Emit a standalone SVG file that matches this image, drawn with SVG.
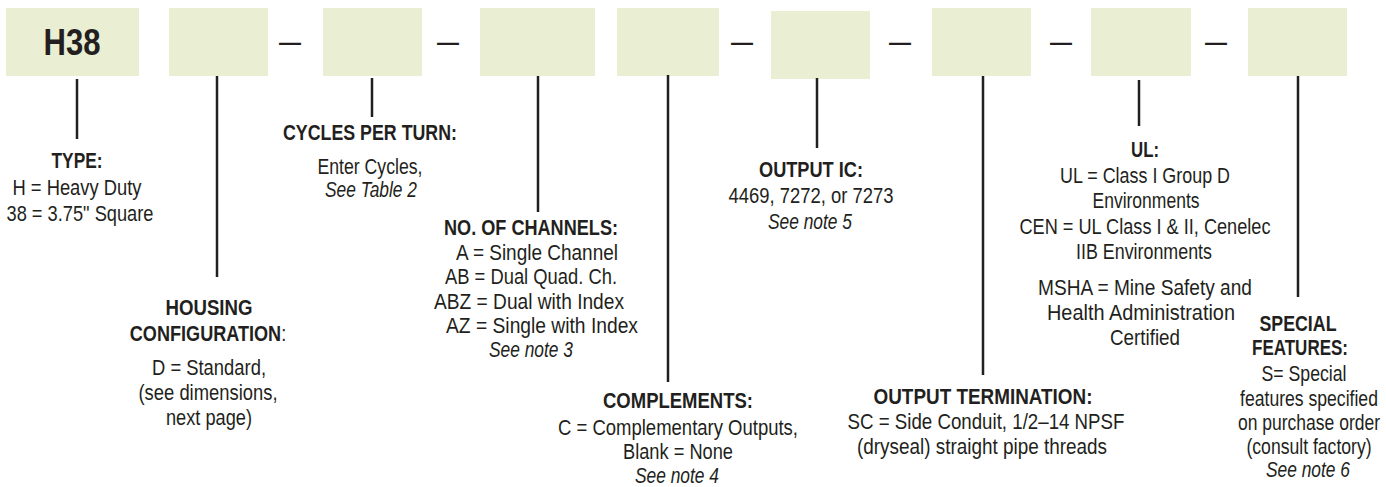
<svg xmlns="http://www.w3.org/2000/svg" width="1386" height="487" viewBox="0 0 1386 487">
<style>
  .box { fill: #eaeed3; }
  .ln { stroke: #231f20; stroke-width: 2.5; fill: none; }
  text { font-family: "Liberation Sans", Arial, sans-serif; fill: #231f20; font-size: 22px; }
  .c { text-anchor: middle; }
  .h { font-weight: bold; }
  .i { font-style: italic; }
  .dash { font-weight: bold; text-anchor: middle; }
</style>
<rect width="1386" height="487" fill="#ffffff"/>

<g id="boxes">
  <g id="box-type"><rect class="box" x="6" y="8" width="133" height="68"/><text class="c h" x="72" y="55" style="font-size:37.5px" textLength="57" lengthAdjust="spacingAndGlyphs">H38</text></g>
  <g id="box-housing"><rect class="box" x="169" y="8" width="99" height="68"/></g>
  <g id="box-cycles"><rect class="box" x="323" y="8" width="99" height="68"/></g>
  <g id="box-channels"><rect class="box" x="480" y="8" width="115" height="68"/></g>
  <g id="box-complements"><rect class="box" x="617" y="8" width="102" height="68"/></g>
  <g id="box-outputic"><rect class="box" x="771" y="11" width="99" height="68"/></g>
  <g id="box-termination"><rect class="box" x="932" y="8" width="99" height="68"/></g>
  <g id="box-ul"><rect class="box" x="1091" y="8" width="100" height="68"/></g>
  <g id="box-special"><rect class="box" x="1248" y="8" width="99" height="68"/></g>
</g>

<g id="dashes">
  <text class="dash" x="290" y="50">—</text>
  <text class="dash" x="448" y="50">—</text>
  <text class="dash" x="742" y="50">—</text>
  <text class="dash" x="900" y="50">—</text>
  <text class="dash" x="1061" y="50">—</text>
  <text class="dash" x="1216" y="50">—</text>
</g>

<g id="connectors">
  <line class="ln" x1="77" y1="79" x2="77" y2="139"/>
  <line class="ln" x1="217" y1="76" x2="217" y2="277"/>
  <line class="ln" x1="372" y1="78" x2="372" y2="117"/>
  <line class="ln" x1="538" y1="76" x2="538" y2="212"/>
  <line class="ln" x1="668" y1="75" x2="668" y2="382"/>
  <line class="ln" x1="817" y1="78" x2="817" y2="148"/>
  <line class="ln" x1="983" y1="76" x2="983" y2="375"/>
  <line class="ln" x1="1139" y1="80" x2="1139" y2="126"/>
  <line class="ln" x1="1298" y1="76" x2="1298" y2="297"/>
</g>

<g id="label-type">
  <text class="c h" x="77" y="168" textLength="51" lengthAdjust="spacingAndGlyphs">TYPE:</text>
  <text class="c" x="77" y="195" textLength="129" lengthAdjust="spacingAndGlyphs">H = Heavy Duty</text>
  <text class="c" x="80" y="221" textLength="147" lengthAdjust="spacingAndGlyphs">38 = 3.75&quot; Square</text>
</g>

<g id="label-housing">
  <text class="c h" x="209" y="315" textLength="87" lengthAdjust="spacingAndGlyphs">HOUSING</text>
  <text class="c" x="0" y="341" transform="translate(208,0) scale(0.823,1)"><tspan class="h">CONFIGURATION</tspan>:</text>
  <text class="c" x="209" y="375" textLength="114" lengthAdjust="spacingAndGlyphs">D = Standard,</text>
  <text class="c" x="208" y="400" textLength="139" lengthAdjust="spacingAndGlyphs">(see dimensions,</text>
  <text class="c" x="209" y="425" textLength="86" lengthAdjust="spacingAndGlyphs">next page)</text>
</g>

<g id="label-cycles">
  <text class="c h" x="370" y="140" textLength="174" lengthAdjust="spacingAndGlyphs">CYCLES PER TURN:</text>
  <text class="c" x="370" y="174" textLength="105" lengthAdjust="spacingAndGlyphs">Enter Cycles,</text>
  <text class="c i" x="371" y="197" textLength="92" lengthAdjust="spacingAndGlyphs">See Table 2</text>
</g>

<g id="label-channels">
  <text class="c h" x="531" y="235" textLength="174" lengthAdjust="spacingAndGlyphs">NO. OF CHANNELS:</text>
  <text x="456" y="259.5" textLength="162" lengthAdjust="spacingAndGlyphs">A = Single Channel</text>
  <text x="445" y="284" textLength="172" lengthAdjust="spacingAndGlyphs">AB = Dual Quad. Ch.</text>
  <text x="434" y="308.5" textLength="190" lengthAdjust="spacingAndGlyphs">ABZ = Dual with Index</text>
  <text x="446" y="333" textLength="192" lengthAdjust="spacingAndGlyphs">AZ = Single with Index</text>
  <text class="c i" x="531" y="357" textLength="84" lengthAdjust="spacingAndGlyphs">See note 3</text>
</g>

<g id="label-complements">
  <text class="c h" x="678" y="408" textLength="150" lengthAdjust="spacingAndGlyphs">COMPLEMENTS:</text>
  <text class="c" x="678" y="435" textLength="240" lengthAdjust="spacingAndGlyphs">C = Complementary Outputs,</text>
  <text class="c" x="678" y="459" textLength="110" lengthAdjust="spacingAndGlyphs">Blank = None</text>
  <text class="c i" x="677" y="483" textLength="84" lengthAdjust="spacingAndGlyphs">See note 4</text>
</g>

<g id="label-outputic">
  <text class="c h" x="811" y="177" textLength="104" lengthAdjust="spacingAndGlyphs">OUTPUT IC:</text>
  <text class="c" x="811" y="203" textLength="165" lengthAdjust="spacingAndGlyphs">4469, 7272, or 7273</text>
  <text class="c i" x="810" y="229" textLength="84" lengthAdjust="spacingAndGlyphs">See note 5</text>
</g>

<g id="label-termination">
  <text class="c h" x="983" y="404" textLength="219" lengthAdjust="spacingAndGlyphs">OUTPUT TERMINATION:</text>
  <text class="c" x="986" y="429" textLength="277" lengthAdjust="spacingAndGlyphs">SC = Side Conduit, 1/2–14 NPSF</text>
  <text class="c" x="982" y="454" textLength="250" lengthAdjust="spacingAndGlyphs">(dryseal) straight pipe threads</text>
</g>

<g id="label-ul">
  <text class="c h" x="1145" y="157" textLength="28" lengthAdjust="spacingAndGlyphs">UL:</text>
  <text class="c" x="1145" y="183" textLength="170" lengthAdjust="spacingAndGlyphs">UL = Class I Group D</text>
  <text class="c" x="1146" y="208" textLength="107" lengthAdjust="spacingAndGlyphs">Environments</text>
  <text class="c" x="1145" y="234" textLength="251" lengthAdjust="spacingAndGlyphs">CEN = UL Class I &amp; II, Cenelec</text>
  <text class="c" x="1144" y="259" textLength="136" lengthAdjust="spacingAndGlyphs">IIB Environments</text>
  <text class="c" x="1145" y="295" textLength="214" lengthAdjust="spacingAndGlyphs">MSHA = Mine Safety and</text>
  <text class="c" x="1141" y="320" textLength="188" lengthAdjust="spacingAndGlyphs">Health Administration</text>
  <text class="c" x="1145" y="345" textLength="70" lengthAdjust="spacingAndGlyphs">Certified</text>
</g>

<g id="label-special">
  <text class="c h" x="1298" y="331" textLength="77" lengthAdjust="spacingAndGlyphs">SPECIAL</text>
  <text class="c h" x="1300" y="355" textLength="96" lengthAdjust="spacingAndGlyphs">FEATURES:</text>
  <text class="c" x="1304" y="381" textLength="85" lengthAdjust="spacingAndGlyphs">S= Special</text>
  <text class="c" x="0" y="406" transform="translate(1309,0) scale(0.80,1)">features specified</text>
  <text class="c" x="0" y="430" transform="translate(1309,0) scale(0.796,1)">on purchase order</text>
  <text class="c" x="0" y="454" transform="translate(1309,0) scale(0.80,1)">(consult factory)</text>
  <text class="c i" x="1308" y="477" textLength="84" lengthAdjust="spacingAndGlyphs">See note 6</text>
</g>
</svg>
